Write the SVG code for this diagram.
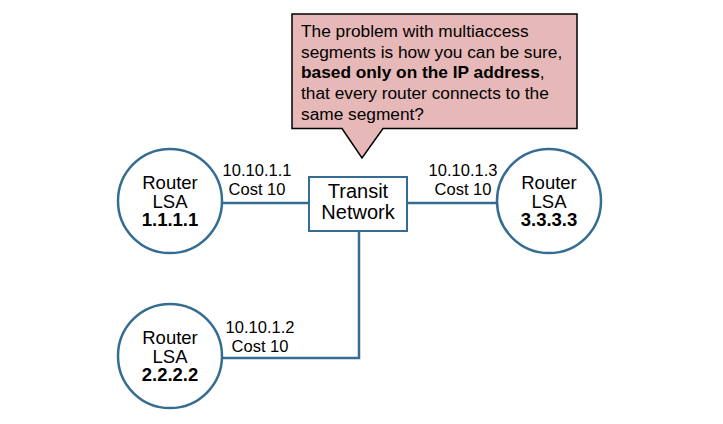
<svg xmlns="http://www.w3.org/2000/svg" width="723" height="424" viewBox="0 0 723 424">
<style>
text{font-family:"Liberation Sans",Arial,sans-serif;fill:#000}
.node{fill:#fff;stroke:#346C92;stroke-width:2.5}
.box{fill:#fff;stroke:#346C92;stroke-width:2}
.conn{fill:none;stroke:#346C92;stroke-width:2.5}
.rt{font-size:18.5px;text-anchor:middle}
.b{font-weight:bold}
.lbl{font-size:16.5px;text-anchor:middle}
.call{font-size:17.3px}
</style>
<rect width="723" height="424" fill="#fff"/>
<g id="connectors">
<line class="conn" x1="222" y1="203" x2="309" y2="203"/>
<line class="conn" x1="407" y1="203" x2="497" y2="203"/>
<polyline class="conn" points="359,231 359,358 222,358"/>
</g>
<g id="callout">
<path d="M292,14 H577 V128.5 H383 L362,158 L342,128.5 H292 Z" fill="#E6B8B7" stroke="#000" stroke-width="1.5"/>
<text class="call" x="301" y="37">The problem with multiaccess</text>
<text class="call" x="301" y="57.6">segments is how you can be sure,</text>
<text class="call" x="301" y="78.3"><tspan class="b">based only on the IP address</tspan>,</text>
<text class="call" x="301" y="99">that every router connects to the</text>
<text class="call" x="301" y="119.6">same segment?</text>
</g>
<g id="router1">
<circle class="node" cx="170" cy="201" r="52"/>
<text class="rt" x="170" y="189">Router</text>
<text class="rt" x="170" y="208">LSA</text>
<text class="rt b" x="170" y="226">1.1.1.1</text>
</g>
<g id="router3">
<circle class="node" cx="549" cy="201" r="52"/>
<text class="rt" x="549" y="189">Router</text>
<text class="rt" x="549" y="208">LSA</text>
<text class="rt b" x="549" y="226">3.3.3.3</text>
</g>
<g id="router2">
<circle class="node" cx="170" cy="356" r="52"/>
<text class="rt" x="170" y="344">Router</text>
<text class="rt" x="170" y="363">LSA</text>
<text class="rt b" x="170" y="381">2.2.2.2</text>
</g>
<g id="transit">
<rect class="box" x="309" y="177" width="98" height="54"/>
<text class="rt" style="font-size:20px" x="358" y="198">Transit</text>
<text class="rt" style="font-size:20px" x="358" y="219">Network</text>
</g>
<g id="labels">
<text class="lbl" x="257" y="176">10.10.1.1</text>
<text class="lbl" x="257" y="195">Cost 10</text>
<text class="lbl" x="463" y="176">10.10.1.3</text>
<text class="lbl" x="463" y="195">Cost 10</text>
<text class="lbl" x="260" y="333">10.10.1.2</text>
<text class="lbl" x="260" y="352">Cost 10</text>
</g>
</svg>
